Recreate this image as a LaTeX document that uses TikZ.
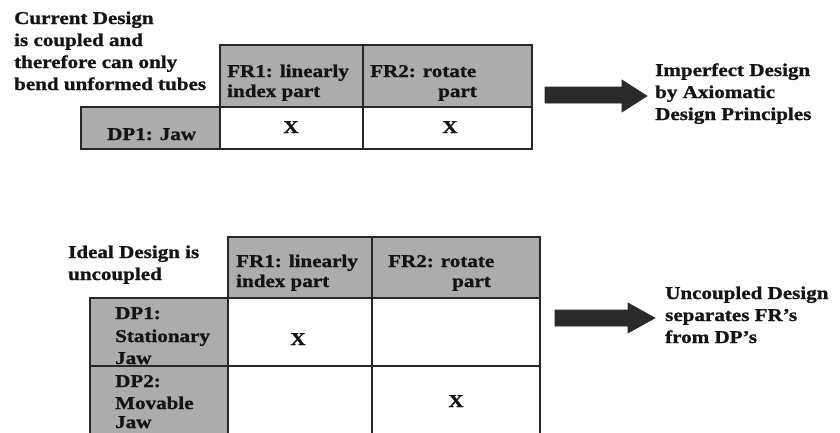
\documentclass[tikz,border=0pt]{standalone}
\usepackage{fontspec}
\setmainfont{Liberation Serif}[FakeStretch=1.17, FakeBold=1.2]
\definecolor{cellgray}{RGB}{172,172,172}
\definecolor{rulegray}{RGB}{40,40,40}
\definecolor{arrowfill}{RGB}{42,42,42}
\definecolor{inkblack}{RGB}{20,20,20}
\tikzset{
  txt/.style={anchor=base west, inner sep=0pt, text=inkblack,
    font=\fontsize{18bp}{22bp}\selectfont\bfseries},
  crosstxt/.style={anchor=base, inner sep=0pt, text=inkblack,
    font=\fontsize{18bp}{22bp}\selectfont\bfseries},
  headcell/.style={fill=cellgray, draw=rulegray, line width=1.4bp},
  bodycell/.style={fill=white, draw=rulegray, line width=1.4bp},
  blockarrow/.style={fill=arrowfill, draw=rulegray, line width=0.6bp}
}
\begin{document}
\begin{tikzpicture}[x=1bp, y=-1bp]
  \useasboundingbox (0,0) rectangle (840,432);
  \clip (0,0) rectangle (840,432);

  % ---- coupled design matrix ----
  \node[txt] (cur1) at (14,24) {Current Design};
  \node[txt] (cur2) at (14,46) {is coupled and};
  \node[txt] (cur3) at (14,68) {therefore can only};
  \node[txt] (cur4) at (14,90) {bend unformed tubes};

  \path[headcell] (220,45) rectangle (363,107);
  \path[headcell] (363,45) rectangle (532,107);
  \path[headcell] (81,107) rectangle (220,149);
  \path[bodycell] (220,107) rectangle (363,149);
  \path[bodycell] (363,107) rectangle (532,149);

  \node[txt] (afr1a) at (227,77) {FR1: linearly};
  \node[txt] (afr1b) at (227,97) {index part};
  \node[txt] (afr2a) at (370,77) {FR2: rotate};
  \node[txt] (afr2b) at (438,97) {part};
  \node[txt] (adp1) at (107,140) {DP1: Jaw};
  \node[crosstxt] (ax11) at (291,133) {X};
  \node[crosstxt] (ax12) at (450,133) {X};

  \path[blockarrow] (545,87) -- (622,87) -- (622,80) -- (647,96)
    -- (622,112) -- (622,103) -- (545,103) -- cycle;

  \node[txt] (imp1) at (655,76) {Imperfect Design};
  \node[txt] (imp2) at (655,98) {by Axiomatic};
  \node[txt] (imp3) at (655,120) {Design Principles};

  % ---- uncoupled design matrix ----
  \node[txt] (ide1) at (68,258) {Ideal Design is};
  \node[txt] (ide2) at (68,280) {uncoupled};

  \path[headcell] (228,237) rectangle (372,298);
  \path[headcell] (372,237) rectangle (540,298);
  \path[headcell] (90,298) rectangle (228,366);
  \path[bodycell] (228,298) rectangle (372,366);
  \path[bodycell] (372,298) rectangle (540,366);

  \node[txt] (bfr1a) at (236,267) {FR1: linearly};
  \node[txt] (bfr1b) at (236,287) {index part};
  \node[txt] (bfr2a) at (388,267) {FR2: rotate};
  \node[txt] (bfr2b) at (452,287) {part};
  \node[txt] (bdp1a) at (115,319) {DP1:};
  \node[txt] (bdp1b) at (115,342) {Stationary};
  \node[txt] (bdp1c) at (115,364) {Jaw};

  \path[headcell] (90,366) rectangle (228,450);
  \path[bodycell] (228,366) rectangle (372,450);
  \path[bodycell] (372,366) rectangle (540,450);

  \node[txt] (bdp2a) at (115,387) {DP2:};
  \node[txt] (bdp2b) at (115,409) {Movable};
  \node[txt] (bdp2c) at (115,428) {Jaw};
  \node[crosstxt] (bx11) at (298,345) {X};
  \node[crosstxt] (bx22) at (456,407) {X};

  \path[blockarrow] (555,310) -- (628,310) -- (628,303) -- (655,318)
    -- (628,333) -- (628,326) -- (555,326) -- cycle;

  \node[txt] (unc1) at (665,299) {Uncoupled Design};
  \node[txt] (unc2) at (665,321) {separates FR’s};
  \node[txt] (unc3) at (665,343) {from DP’s};
\end{tikzpicture}
\end{document}
